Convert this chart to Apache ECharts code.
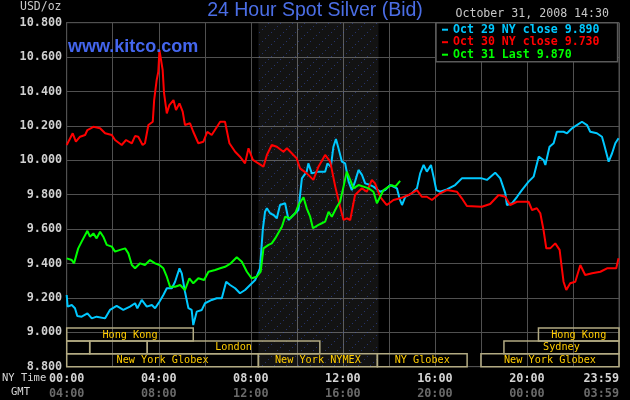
<!DOCTYPE html>
<html><head><meta charset="utf-8">
<script src="https://cdn.jsdelivr.net/npm/echarts@6/dist/echarts.min.js"></script>
<style>html,body{margin:0;padding:0;background:#000;}#c{width:630px;height:400px;}</style>
</head><body><div id="c"></div>
<script>
// [NY hour, price USD/oz]
const oct29 = [[0,9.217],[0.04,9.149],[0.22,9.159],[0.36,9.14],[0.46,9.095],[0.65,9.091],[0.9,9.11],[1.09,9.081],[1.3,9.091],[1.67,9.081],[1.88,9.13],[2.17,9.153],[2.46,9.13],[2.75,9.149],[2.97,9.169],[3.07,9.14],[3.26,9.188],[3.48,9.149],[3.7,9.159],[3.84,9.14],[4.03,9.178],[4.2,9.217],[4.35,9.256],[4.57,9.256],[4.71,9.294],[4.78,9.323],[4.9,9.372],[5.0,9.343],[5.14,9.236],[5.29,9.14],[5.43,9.13],[5.5,9.042],[5.65,9.12],[5.87,9.13],[6.01,9.169],[6.3,9.188],[6.52,9.198],[6.74,9.198],[6.93,9.294],[7.1,9.275],[7.32,9.256],[7.53,9.227],[7.75,9.246],[7.97,9.275],[8.19,9.304],[8.4,9.372],[8.52,9.595],[8.62,9.701],[8.7,9.721],[8.84,9.692],[8.99,9.682],[9.13,9.663],[9.27,9.74],[9.49,9.75],[9.64,9.653],[9.85,9.682],[10.07,9.711],[10.22,9.895],[10.43,9.934],[10.5,9.982],[10.65,9.924],[10.94,9.934],[11.23,9.934],[11.33,9.982],[11.48,9.963],[11.59,10.079],[11.7,10.124],[11.81,10.07],[11.96,9.992],[12.1,9.982],[12.25,9.876],[12.39,9.827],[12.53,9.876],[12.68,9.944],[12.83,9.915],[12.97,9.866],[13.19,9.856],[13.33,9.847],[13.62,9.817],[13.84,9.827],[14.06,9.856],[14.35,9.837],[14.46,9.779],[14.57,9.74],[14.71,9.788],[15.0,9.808],[15.22,9.837],[15.36,9.924],[15.51,9.973],[15.65,9.934],[15.83,9.973],[15.94,9.905],[16.06,9.827],[16.23,9.817],[16.52,9.831],[16.88,9.856],[17.17,9.895],[18.04,9.895],[18.26,9.886],[18.62,9.928],[18.84,9.895],[19.06,9.808],[19.13,9.74],[19.35,9.75],[19.57,9.788],[19.78,9.827],[20.07,9.876],[20.29,9.905],[20.51,10.021],[20.72,10.002],[20.8,9.973],[20.98,10.079],[21.16,10.099],[21.3,10.166],[21.59,10.166],[21.74,10.157],[21.96,10.186],[22.17,10.205],[22.39,10.224],[22.61,10.205],[22.75,10.166],[23.04,10.157],[23.26,10.137],[23.36,10.089],[23.55,9.992],[23.7,10.041],[23.84,10.099],[23.98,10.128]];
const oct30 = [[0,10.089],[0.26,10.157],[0.4,10.108],[0.58,10.137],[0.8,10.147],[0.9,10.176],[1.16,10.195],[1.45,10.186],[1.67,10.157],[1.96,10.147],[2.1,10.118],[2.39,10.089],[2.58,10.118],[2.83,10.099],[2.97,10.141],[3.11,10.137],[3.3,10.089],[3.4,10.099],[3.55,10.205],[3.74,10.224],[3.8,10.35],[3.91,10.467],[3.98,10.515],[4.03,10.641],[4.1,10.631],[4.17,10.525],[4.23,10.39],[4.35,10.273],[4.46,10.321],[4.64,10.35],[4.75,10.292],[4.9,10.331],[5.04,10.283],[5.14,10.205],[5.36,10.215],[5.5,10.166],[5.72,10.099],[5.94,10.108],[6.11,10.166],[6.3,10.147],[6.67,10.224],[6.88,10.224],[7.07,10.099],[7.32,10.05],[7.53,10.021],[7.75,9.982],[7.9,10.07],[8.09,10.002],[8.33,9.982],[8.55,9.963],[8.7,10.031],[8.91,10.089],[9.13,10.079],[9.42,10.05],[9.57,10.07],[9.78,10.041],[9.99,10.012],[10.14,9.953],[10.43,9.924],[10.72,9.886],[10.94,9.963],[11.23,10.031],[11.45,9.992],[11.67,9.847],[11.88,9.73],[12.03,9.653],[12.17,9.663],[12.32,9.653],[12.53,9.798],[12.83,9.837],[13.04,9.817],[13.26,9.886],[13.4,9.866],[13.62,9.788],[13.91,9.74],[14.2,9.769],[14.49,9.779],[14.85,9.798],[15.22,9.827],[15.43,9.788],[15.65,9.788],[15.87,9.769],[16.23,9.808],[16.52,9.827],[16.96,9.817],[17.17,9.779],[17.39,9.734],[18.04,9.73],[18.4,9.746],[18.77,9.798],[19.06,9.788],[19.27,9.74],[19.57,9.759],[20.07,9.759],[20.22,9.711],[20.43,9.721],[20.58,9.692],[20.72,9.595],[20.84,9.488],[21.01,9.488],[21.23,9.517],[21.42,9.479],[21.49,9.401],[21.59,9.294],[21.71,9.246],[21.88,9.285],[22.1,9.294],[22.32,9.391],[22.53,9.333],[22.83,9.343],[23.19,9.352],[23.48,9.372],[23.88,9.372],[23.98,9.43]];
const oct31 = [[0,9.43],[0.22,9.42],[0.32,9.401],[0.5,9.488],[0.65,9.527],[0.9,9.59],[1.01,9.556],[1.16,9.575],[1.3,9.546],[1.45,9.585],[1.59,9.556],[1.74,9.508],[1.96,9.498],[2.1,9.469],[2.32,9.479],[2.54,9.488],[2.68,9.459],[2.83,9.391],[2.97,9.372],[3.19,9.401],[3.4,9.391],[3.62,9.42],[3.84,9.401],[4.03,9.391],[4.2,9.372],[4.35,9.323],[4.49,9.265],[4.71,9.265],[4.93,9.275],[5.14,9.246],[5.33,9.314],[5.5,9.285],[5.72,9.314],[5.97,9.304],[6.16,9.352],[6.45,9.362],[6.67,9.372],[6.88,9.381],[7.13,9.401],[7.39,9.436],[7.61,9.41],[7.83,9.352],[8.04,9.314],[8.26,9.323],[8.43,9.352],[8.55,9.488],[8.77,9.508],[8.91,9.517],[9.06,9.546],[9.27,9.595],[9.35,9.614],[9.49,9.672],[9.71,9.663],[9.93,9.692],[10.07,9.74],[10.29,9.785],[10.43,9.721],[10.58,9.672],[10.7,9.605],[10.94,9.624],[11.09,9.634],[11.23,9.643],[11.38,9.701],[11.52,9.672],[11.74,9.73],[11.88,9.759],[12.03,9.847],[12.17,9.934],[12.32,9.886],[12.46,9.837],[12.68,9.856],[12.9,9.847],[13.12,9.837],[13.33,9.817],[13.48,9.75],[13.62,9.788],[13.77,9.827],[13.99,9.847],[14.13,9.856],[14.28,9.847],[14.49,9.88]];

const seriesNames = ['Oct 29 NY close 9.890', 'Oct 30 NY close 9.730', 'Oct 31 Last 9.870'];
const seriesColors = ['#00c8ff', '#ff0000', '#00ff00'];

const nyTimeLabels = ['00:00', '04:00', '08:00', '12:00', '16:00', '20:00', '23:59'];
const gmtTimeLabels = ['04:00', '08:00', '12:00', '16:00', '20:00', '00:00', '03:59'];

// trading sessions: [name, start hour, end hour, row]
const sessions = [
  ['Hong Kong', 0, 5.5, 0],
  ['Hong Kong', 20.5, 24, 0],
  ['', 0, 1, 1],
  ['', 1, 3.5, 1],
  ['London', 3.5, 11, 1],
  ['Sydney', 19, 24, 1],
  ['New York Globex', 0, 8.33, 2],
  ['New York NYMEX', 8.33, 13.5, 2],
  ['NY Globex', 13.5, 17.4, 2],
  ['New York Globex', 18, 24, 2]
];
const rowBands = [[9.025, 8.95], [8.95, 8.875], [8.875, 8.8]];
const nymexSpan = [8.33, 13.55];

// dotted texture for the NYMEX session shading
const pc = document.createElement('canvas');
pc.width = 12; pc.height = 12;
const g = pc.getContext('2d');
g.fillStyle = 'rgba(255,255,255,0.075)';
g.fillRect(0, 0, 12, 12);
g.fillStyle = 'rgba(60,90,210,0.45)';
g.fillRect(1, 2, 1, 1); g.fillRect(7, 8, 1, 1); g.fillRect(4, 11, 1, 1); g.fillRect(10, 5, 1, 1);

const chart = echarts.init(document.getElementById('c'), null, {renderer: 'canvas'});
const mono = '"DejaVu Sans Mono", monospace';

const lineSeries = seriesNames.map((n, i) => ({
  name: n,
  type: 'line',
  data: [oct29, oct30, oct31][i],
  showSymbol: false,
  symbol: 'none',
  color: seriesColors[i],
  lineStyle: {width: 2, color: seriesColors[i]},
  z: 3 + i,
  markArea: i === 0 ? {
    silent: true,
    itemStyle: {color: {image: pc, repeat: 'repeat'}},
    data: [[{xAxis: nymexSpan[0]}, {xAxis: nymexSpan[1]}]]
  } : undefined
}));

chart.setOption({
  backgroundColor: '#000',
  animation: false,
  title: {
    text: '24 Hour Spot Silver (Bid)',
    left: 'center', top: 1, padding: 0,
    textStyle: {fontFamily: '"Liberation Sans", Arial, sans-serif', fontSize: 19.5, fontWeight: 'normal', color: '#4b6ee6'}
  },
  grid: {left: 66.7, right: 11, top: 22.7, bottom: 33.3, show: true, borderColor: '#505050', borderWidth: 1, backgroundColor: 'transparent'},
  legend: {
    orient: 'vertical', left: 436, top: 22.7,
    backgroundColor: '#000', borderColor: '#5a5a5a', borderWidth: 1.5,
    padding: [1, 18, 1, 6], itemGap: 0.5, itemWidth: 6, itemHeight: 2, icon: 'rect',
    selectedMode: false,
    textStyle: {fontFamily: mono, fontWeight: 'bold', fontSize: 11.6, lineHeight: 12},
    data: seriesNames.map((n, i) => ({name: n, textStyle: {color: seriesColors[i]}}))
  },
  xAxis: {
    type: 'value', min: 0, max: 24, interval: 2,
    axisLine: {show: false}, axisTick: {show: false},
    splitLine: {show: true, lineStyle: {color: '#505050', width: 1}},
    axisLabel: {
      margin: 4, showMaxLabel: true, alignMaxLabel: 'right',
      formatter: v => (v % 4 === 0) ? '{a|' + nyTimeLabels[v / 4] + '}\n{b|' + gmtTimeLabels[v / 4] + '}' : '',
      rich: {
        a: {fontFamily: mono, fontWeight: 'bold', fontSize: 11.8, color: '#d4d4d4', lineHeight: 15.5},
        b: {fontFamily: mono, fontWeight: 'bold', fontSize: 11.8, color: '#6a6a6a', lineHeight: 15.5}
      }
    }
  },
  yAxis: {
    type: 'value', min: 8.8, max: 10.8, interval: 0.2,
    axisLine: {show: true, lineStyle: {color: '#505050'}}, axisTick: {show: false},
    splitLine: {show: true, lineStyle: {color: '#505050', width: 1}},
    axisLabel: {margin: 4.5, formatter: v => v.toFixed(3), fontFamily: mono, fontWeight: 'bold', fontSize: 11.8, color: '#d0d0d0'}
  },
  graphic: [
    {type: 'text', left: 20, top: 1, style: {text: 'USD/oz', font: '11.5px ' + mono, fill: '#c8c8c8'}},
    {type: 'text', right: 21, top: 8, style: {text: 'October 31, 2008 14:30', font: '11.6px ' + mono, fill: '#c8c8c8'}},
    {type: 'text', left: 68, top: 38, z: 10, style: {text: 'www.kitco.com', font: 'bold 18px "Liberation Sans", Arial, sans-serif', fill: '#4466ee'}},
    {type: 'text', left: 2, top: 373, style: {text: 'NY Time', font: '10.5px ' + mono, fill: '#d8d8d8'}},
    {type: 'text', left: 11, top: 387, style: {text: 'GMT', font: '10.5px ' + mono, fill: '#d8d8d8'}}
  ],
  series: [
    {
      type: 'custom',
      silent: true,
      z: 2,
      data: sessions.map(s => [s[1], s[2], s[3]]),
      encode: {x: [0, 1]},
      renderItem: (params, api) => {
        const s = api.value(0), e = api.value(1), r = api.value(2);
        const p1 = api.coord([s, rowBands[r][0]]);
        const p2 = api.coord([e, rowBands[r][1]]);
        const name = sessions[params.dataIndex][0];
        return {
          type: 'group',
          children: [
            {type: 'rect', shape: {x: p1[0], y: p1[1], width: p2[0] - p1[0], height: p2[1] - p1[1]},
             style: {fill: 'none', stroke: '#b2aa82', lineWidth: 1.5}},
            {type: 'text', style: {text: name, x: (p1[0] + p2[0]) / 2, y: (p1[1] + p2[1]) / 2 + 0.5, align: 'center', verticalAlign: 'middle',
             fill: '#ffcc00', font: '10.2px ' + mono}}
          ]
        };
      }
    }
  ].concat(lineSeries)
});
</script></body></html>
